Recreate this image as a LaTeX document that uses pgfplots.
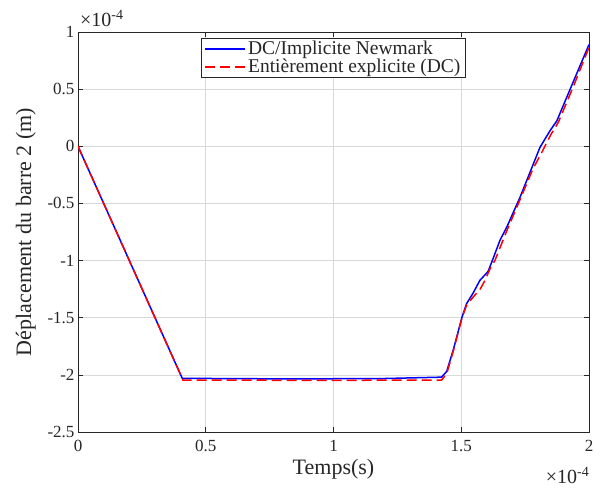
\documentclass[border=0pt]{standalone}
\usepackage{pgfplots}
\pgfplotsset{compat=1.18}
\usepackage{fontspec}
\setmainfont{Liberation Serif}

\definecolor{axgray}{RGB}{38,38,38}

\begin{document}
\begin{tikzpicture}
\begin{axis}[
    name=ax,
    scale only axis,
    width=511pt, height=400pt,
    xmin=0, xmax=2, ymin=-2.5, ymax=1,
    xtick={0,0.5,1,1.5,2},
    ytick={-2.5,-2,-1.5,-1,-0.5,0,0.5,1},
    scaled ticks=false,
    grid=major, grid style={black!15, line width=0.6pt},
    axis line style={axgray, line width=0.8pt},
    tick style={axgray, line width=0.6pt},
    tick align=inside, major tick length=5pt,
    /pgf/number format/assume math mode=true,
    tick label style={font=\fontsize{17}{18}\selectfont, text=axgray},
    xticklabel style={yshift=-5pt},
    label style={font=\fontsize{22}{24}\selectfont, text=axgray},
    xlabel={Temps(s)},
    ylabel={Déplacement du barre 2 (m)},
    ylabel style={yshift=5pt},
    legend style={at={(0.5,0.985)}, anchor=north, draw=axgray, line width=0.6pt,
        font=\fontsize{19.5}{21}\selectfont, text=axgray,
        inner xsep=3pt, inner ysep=1pt, row sep=-1pt},
    legend cell align=left,
    legend image code/.code={\draw[#1] (0pt,0pt) -- (40pt,0pt);},
]
\addplot[blue, line width=1.5pt] coordinates {
    (0,0) (0.408,-2.03) (0.6,-2.033) (0.8,-2.035) (1.0,-2.034) (1.2,-2.032)
    (1.423,-2.02) (1.443,-1.97) (1.469,-1.78) (1.503,-1.495) (1.521,-1.376)
    (1.546,-1.286) (1.573,-1.173) (1.605,-1.095) (1.625,-0.98) (1.652,-0.82)
    (1.678,-0.708) (1.73,-0.446) (1.782,-0.155) (1.808,-0.01) (1.847,0.135)
    (1.874,0.222) (1.93,0.52) (2.0,0.89)
};
\addlegendentry{DC/Implicite Newmark}
\addplot[red, line width=1.5pt, dash pattern=on 10pt off 5pt] coordinates {
    (0,0) (0.411,-2.046) (0.7,-2.047) (1.0,-2.048) (1.423,-2.045) (1.443,-1.99)
    (1.469,-1.79) (1.503,-1.50) (1.521,-1.39) (1.547,-1.318) (1.573,-1.254)
    (1.593,-1.173) (1.613,-1.07) (1.632,-0.998) (1.678,-0.74) (1.723,-0.504)
    (1.78,-0.2) (1.815,-0.054) (1.85,0.10) (1.88,0.21) (1.94,0.53) (2.0,0.865)
};
\addlegendentry{Entièrement explicite (DC)}
\end{axis}
\node[anchor=south west, inner sep=0pt, text=axgray, font=\fontsize{20}{22}\selectfont]
    at ([shift={(2pt,5pt)}]ax.north west) {×10\raisebox{7pt}{\fontsize{14}{16}\selectfont -4}};
\node[anchor=base east, inner sep=0pt, text=axgray, font=\fontsize{20}{22}\selectfont]
    at ([shift={(0pt,-51pt)}]ax.south east) {×10\raisebox{7pt}{\fontsize{14}{16}\selectfont -4}};
\path ([shift={(-78pt,-56pt)}]ax.south west) rectangle ([shift={(12pt,32pt)}]ax.north east);
\end{tikzpicture}
\end{document}
